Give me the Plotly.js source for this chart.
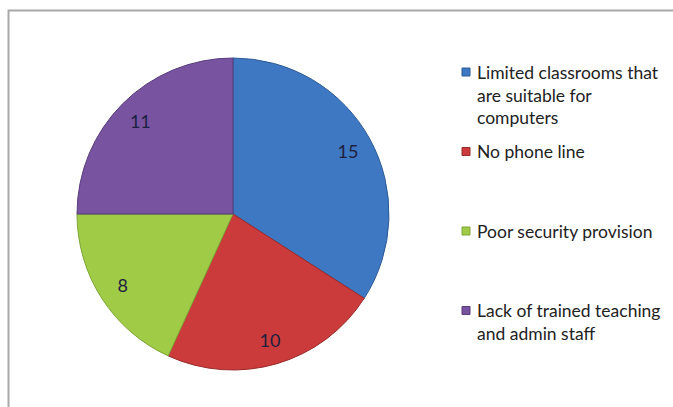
<!DOCTYPE html>
<html>
<head>
<meta charset="utf-8">
<script src="https://cdn.plot.ly/plotly-3.0.1.min.js"></script>
<style>html,body{margin:0;padding:0;background:#fff;}#chart{width:673px;height:407px;}</style>
</head>
<body>
<div id="chart"></div>
<script>
// Data
var categories = [
  "Limited classrooms that<br>are suitable for<br>computers",
  "No phone line",
  "Poor security provision",
  "Lack of trained teaching<br>and admin staff"
];
var values = [15, 10, 8, 11];
var colors = ["#3f78c2", "#cc3b3b", "#a0cb47", "#7853a0"];
var edgeColors = ["#2d5a96", "#9a2a2a", "#7fa535", "#5a3d7c"];

var W = 673, H = 407;
var font = "Lato, 'Open Sans', sans-serif";
var dom = {x: [77 / W, 389 / W], y: [(H - 370) / H, (H - 58) / H]};

// Filled pie (no text)
var pie = {
  type: "pie",
  values: values,
  labels: categories,
  sort: false,
  direction: "clockwise",
  rotation: 0,
  marker: {colors: colors, line: {color: edgeColors, width: 1}},
  textinfo: "none",
  hoverinfo: "label+value",
  showlegend: false,
  domain: dom
};
// Transparent ring on top that places the value labels near the outer edge
var labelsRing = {
  type: "pie",
  values: values,
  labels: categories,
  sort: false,
  direction: "clockwise",
  rotation: 0,
  hole: 0.68,
  marker: {colors: values.map(function () { return "rgba(0,0,0,0)"; }), line: {width: 0}},
  textinfo: "value",
  textposition: "inside",
  insidetextorientation: "horizontal",
  textfont: {family: font, size: 18, color: "#1e2040"},
  hoverinfo: "skip",
  showlegend: false,
  domain: dom
};

// Legend built from categories (markers + text lines)
var annotations = [];
var shapes = [
  {type: "rect", xref: "paper", yref: "paper", x0: 8.5 / W, x1: 1.02, y0: -0.02, y1: (H - 10.5) / H,
   line: {color: "#a8a8a8", width: 2}, fillcolor: "rgba(0,0,0,0)"}
];
var slotTop = 72, slot = 79.5, lineGap = 23;
categories.forEach(function (c, i) {
  var yc = slotTop + i * slot;
  shapes.push({type: "rect", xref: "paper", yref: "paper",
    x0: 462 / W, x1: 470 / W, y0: (H - yc - 4) / H, y1: (H - yc + 4) / H,
    fillcolor: colors[i], line: {color: edgeColors[i], width: 1}});
  c.split("<br>").forEach(function (line, j) {
    annotations.push({xref: "paper", yref: "paper", x: 475 / W, y: (H - yc - j * lineGap) / H,
      xanchor: "left", yanchor: "middle", align: "left", showarrow: false,
      text: line, font: {family: font, size: 17.5, color: "#222222"}});
  });
});

var layout = {
  width: W, height: H,
  margin: {l: 0, r: 0, t: 0, b: 0},
  paper_bgcolor: "#ffffff",
  showlegend: false,
  shapes: shapes,
  annotations: annotations
};

Plotly.newPlot("chart", [pie, labelsRing], layout, {displayModeBar: false, staticPlot: true});
</script>
</body>
</html>
